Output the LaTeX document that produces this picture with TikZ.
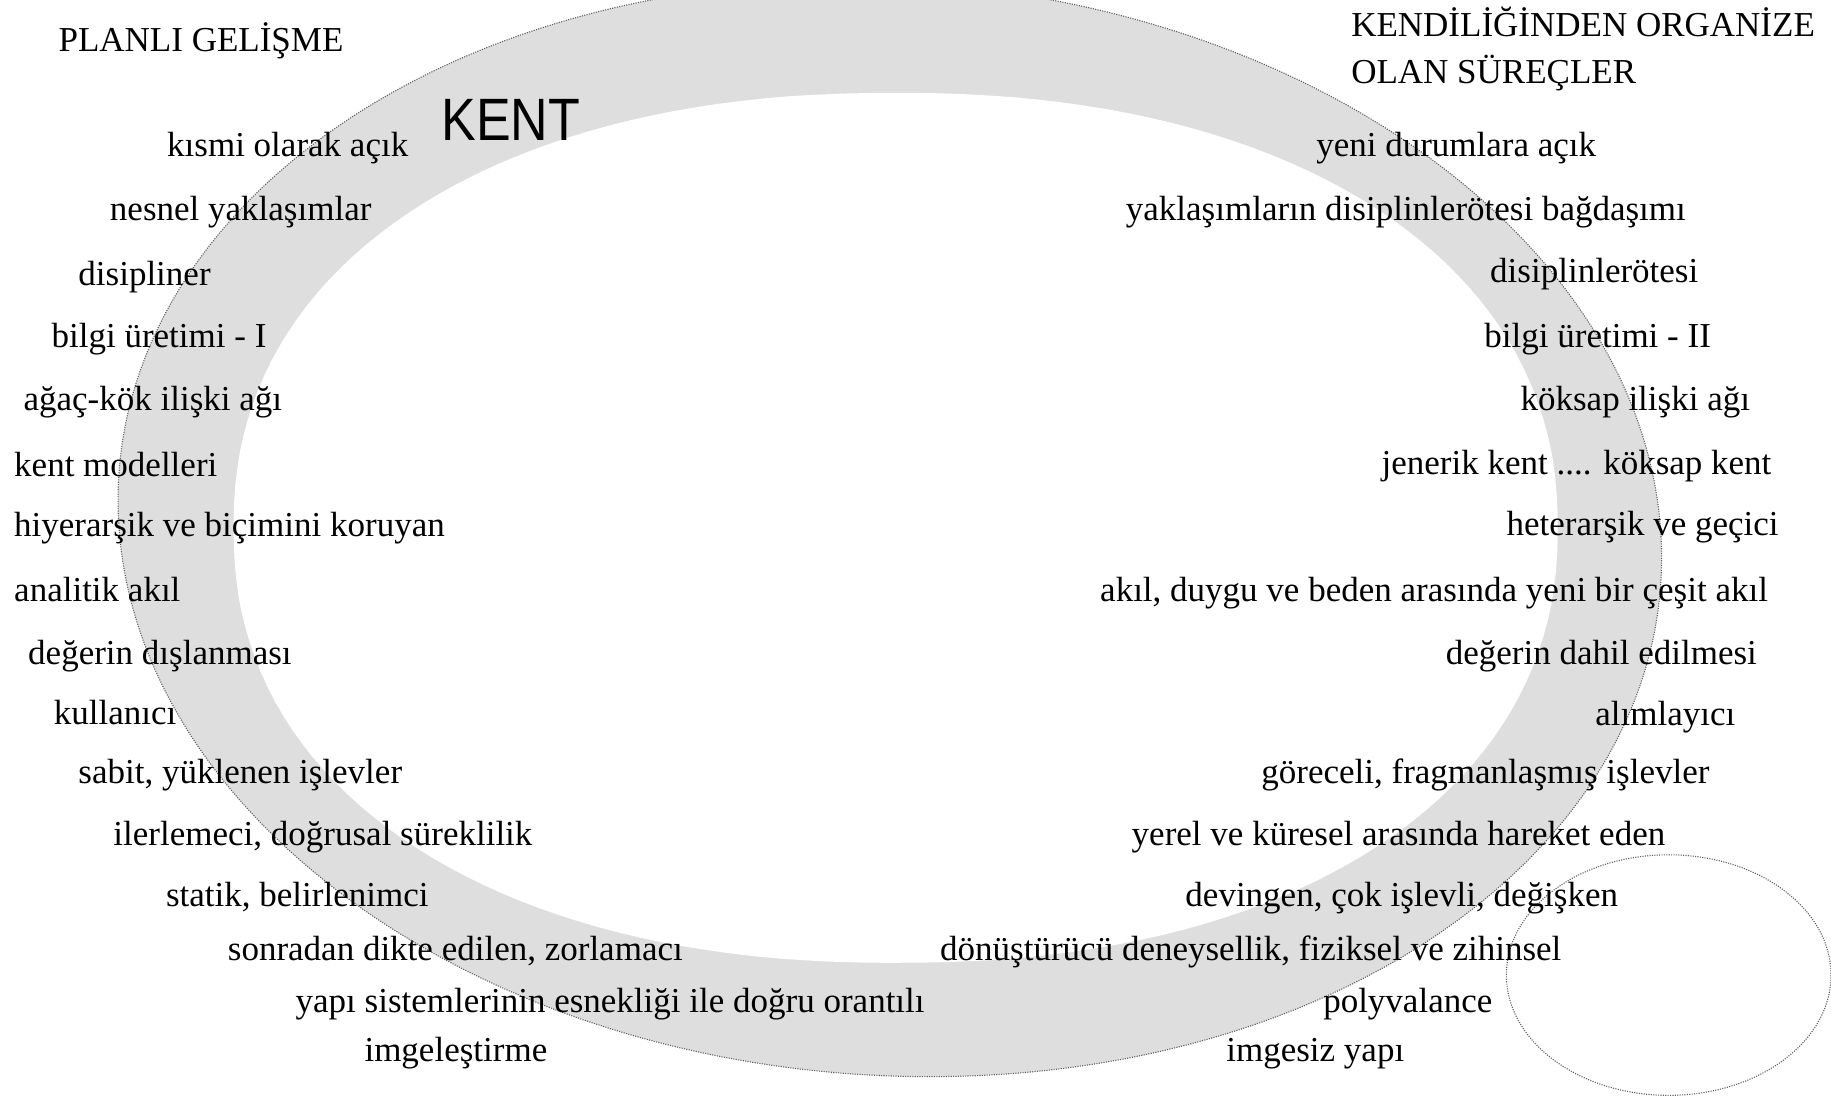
\documentclass[tikz,border=0pt]{standalone}
\usepackage{fontspec}
\setmainfont{Liberation Serif}
\newfontfamily\kentfont{Liberation Sans}
\definecolor{ringgray}{RGB}{222,222,222}
\definecolor{dotgray}{RGB}{95,95,95}
\begin{document}
\begin{tikzpicture}[x=1.1677pt,y=-1.1677pt,
  lbl/.style={anchor=mid west,inner sep=0pt,yshift=-8.5pt,font=\fontsize{35}{41}\selectfont},
  dotline/.style={draw=dotgray,line width=1.1pt,dash pattern=on 1.1pt off 1.3pt}]
\useasboundingbox (0,0) rectangle (1568,939);
\clip (0,0) rectangle (1568,939);
% ring: outer slanted ellipse, inner rounded superellipse
\begin{scope}[shift={(762,453)},xslant=-0.073]
  \fill[ringgray] (0,0) ellipse [x radius=660, y radius=469];
\end{scope}
\fill[white] plot[domain=0.5:360.5,samples=181,variable=\t]
  ({767+567*sign(cos(\t))*abs(cos(\t))^0.909},{452+372.5*sign(sin(\t))*abs(sin(\t))^0.909}) -- cycle;
\begin{scope}[shift={(762,453)},xslant=-0.073]
  \draw[dotline] (0,0) ellipse [x radius=660, y radius=469];
\end{scope}
% small ellipse
\draw[dotline] (1429,835) ellipse [x radius=139, y radius=103];
% title
\node[anchor=base west,inner sep=0pt,font=\kentfont\fontsize{52}{56}\selectfont] (kent) at (378,120) {\scalebox{1}[1.15]{KENT}};
% left column
\node[lbl] (lh) at (50,35) {PLANLI GELİŞME};
\node[lbl] (l1) at (143,125) {kısmi olarak açık};
\node[lbl] (l2) at (94,180) {nesnel yaklaşımlar};
\node[lbl] (l3) at (67,235) {disipliner};
\node[lbl] (l4) at (44,288) {bilgi üretimi - I};
\node[lbl] (l5) at (20,342) {ağaç-kök ilişki ağı};
\node[lbl] (l6) at (12,399) {kent modelleri};
\node[lbl] (l7) at (12,450) {hiyerarşik ve biçimini koruyan};
\node[lbl] (l8) at (12,506) {analitik akıl};
\node[lbl] (l9) at (24,560) {değerin dışlanması};
\node[lbl] (l10) at (46,611) {kullanıcı};
\node[lbl] (l11) at (67,662) {sabit, yüklenen işlevler};
\node[lbl] (l12) at (97,715) {ilerlemeci, doğrusal süreklilik};
\node[lbl] (l13) at (142,767) {statik, belirlenimci};
\node[lbl] (l14) at (195,813) {sonradan dikte edilen, zorlamacı};
\node[lbl] (l15) at (253,858) {yapı sistemlerinin esnekliği ile doğru orantılı};
\node[lbl] (l16) at (312,900) {imgeleştirme};
% right column
\node[lbl] (rh1) at (1157,22) {KENDİLİĞİNDEN ORGANİZE};
\node[lbl] (rh2) at (1157,62) {OLAN SÜREÇLER};
\node[lbl] (r1) at (1127,125) {yeni durumlara açık};
\node[lbl] (r2) at (964,180) {yaklaşımların disiplinlerötesi bağdaşımı};
\node[lbl] (r3) at (1276,233) {disiplinlerötesi};
\node[lbl] (r4) at (1271,288) {bilgi üretimi - II};
\node[lbl] (r5) at (1302,342) {köksap ilişki ağı};
\node[lbl] (r6) at (1183,397) {jenerik kent .... köksap kent};
\node[lbl] (r7) at (1290,449) {heterarşik ve geçici};
\node[lbl] (r8) at (942,506) {akıl, duygu ve beden arasında yeni bir çeşit akıl};
\node[lbl] (r9) at (1238,560) {değerin dahil edilmesi};
\node[lbl] (r10) at (1366,612) {alımlayıcı};
\node[lbl] (r11) at (1080,662) {göreceli, fragmanlaşmış işlevler};
\node[lbl] (r12) at (969,715) {yerel ve küresel arasında hareket eden};
\node[lbl] (r13) at (1015,767) {devingen, çok işlevli, değişken};
\node[lbl] (r14) at (805,813) {dönüştürücü deneysellik, fiziksel ve zihinsel};
\node[lbl] (r15) at (1133,858) {polyvalance};
\node[lbl] (r16) at (1050,900) {imgesiz yapı};
\end{tikzpicture}
\end{document}
